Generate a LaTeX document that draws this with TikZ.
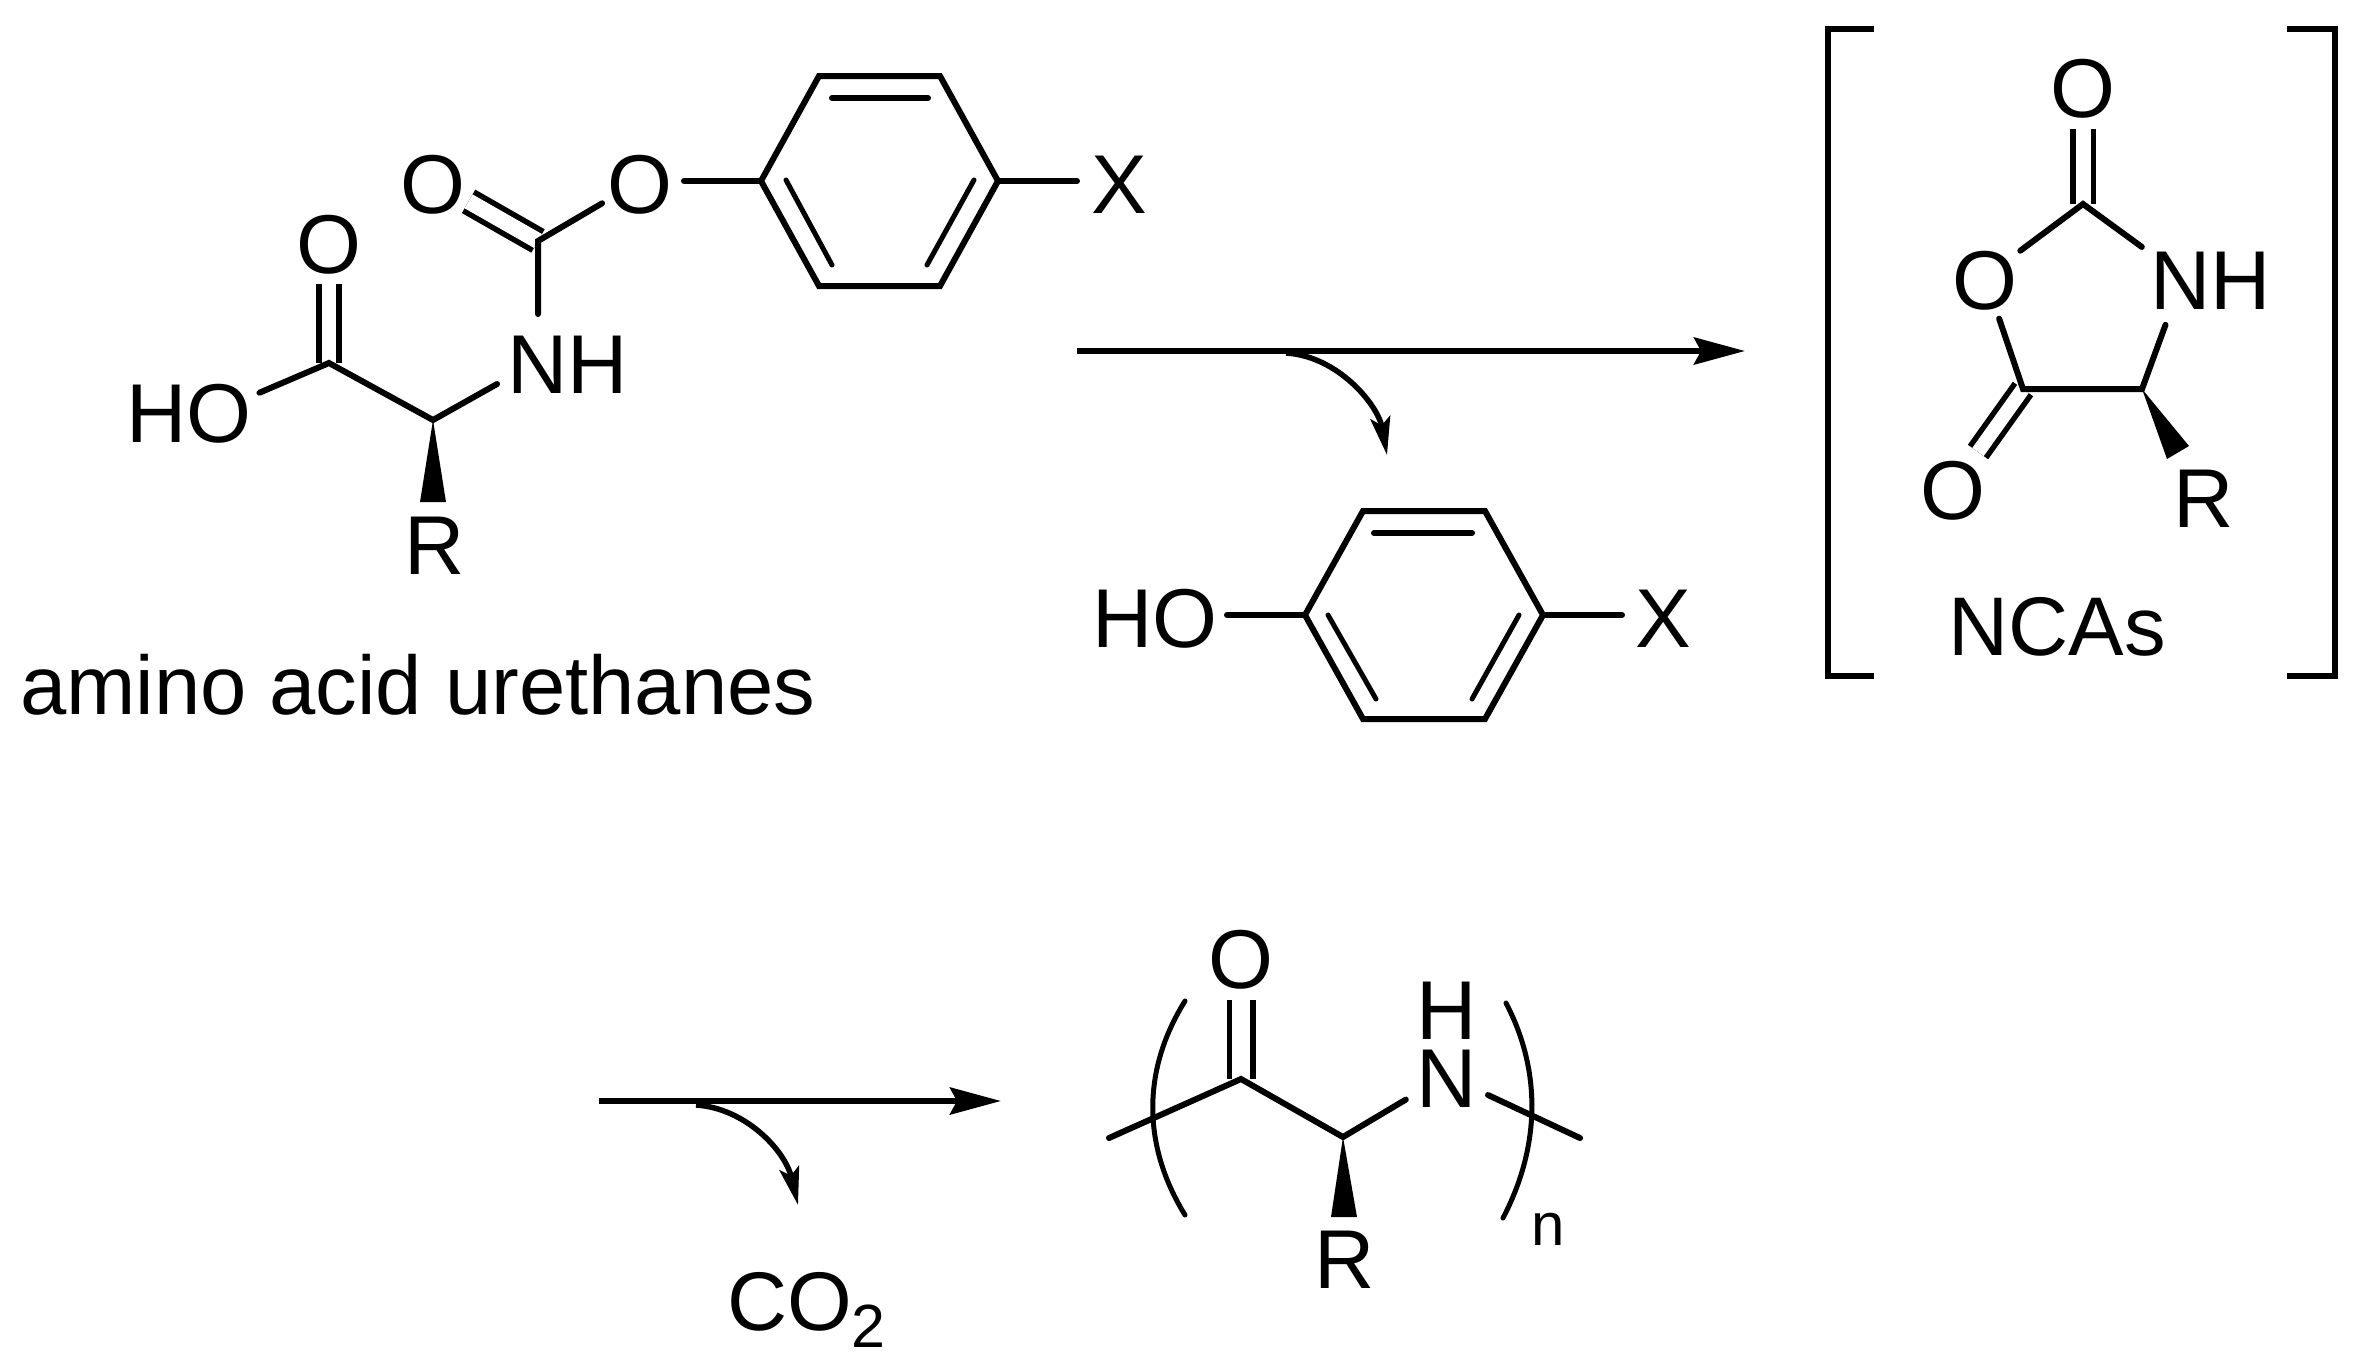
\documentclass[tikz,border=0pt]{standalone}
\usepackage{fontspec}
\setmainfont{Liberation Sans}
\usetikzlibrary{arrows.meta}
\newcommand{\ctrtxt}[1]{\smash{\makebox[0pt][c]{\raisebox{-32.5pt}{#1}}}}
\newcommand{\lefttxt}[2]{\smash{\makebox[0pt][l]{\hspace*{#1pt}\raisebox{-32.5pt}{#2}}}}
\tikzset{
  bigtext/.style={font=\fontsize{83.5}{100}\selectfont},
  atom/.style={bigtext,circle,inner sep=0pt,outer sep=0pt,minimum size=#1 pt},
  label text/.style={font=\fontsize{83.2}{100}\selectfont,inner sep=0pt,outer sep=0pt},
  bond/.style={line width=6pt,line cap=round,line join=miter,black},
  inner bond/.style={line width=5pt,line cap=round,black},
  dbl/.style={line width=5.5pt,double=white,double distance=#1 pt,black},
  mainarrow/.style={line width=6pt,-{Stealth[length=51pt,width=27pt,inset=7pt]}},
  sidearrow/.style={line width=5.5pt,-{Stealth[length=38pt,width=20pt,inset=8pt]}},
  bracket/.style={line width=6pt,line join=miter},
  paren/.style={line width=5pt,line cap=round}
}
\begin{document}
\begin{tikzpicture}[x=1pt,y=-1pt]
\useasboundingbox (0,0) rectangle (2361,1368);
\fill[white] (0,0) rectangle (2361,1368);

% ---------- amino acid urethane ----------
\coordinate (a1) at (761,181);
\coordinate (a2) at (819,76);
\coordinate (a3) at (940,76);
\coordinate (a4) at (998,181);
\coordinate (a5) at (940,286);
\coordinate (a6) at (819,286);
\coordinate (ai1) at (832,98);
\coordinate (ai2) at (928,98);
\coordinate (ai3) at (786,180);
\coordinate (ai4) at (832,265);
\coordinate (ai5) at (974,180);
\coordinate (ai6) at (927,265);
\coordinate (ac) at (538,241);
\coordinate (aca) at (433,420);
\coordinate (acc) at (329,363);
\coordinate (awl) at (420,502);
\coordinate (awr) at (446,502);
\node[atom=88] (aOe) at (640,181) {\ctrtxt{O}};
\node[atom=82] (aOc) at (433,181) {\ctrtxt{O}};
\node[atom=84] (aX) at (1119,181) {\ctrtxt{X}};
\node[atom=94] (aN) at (538,361) {\lefttxt{-31}{NH}};
\node[atom=86] (aOt) at (329,241) {\ctrtxt{O}};
\node[atom=88] (aOH) at (219,410) {\lefttxt{-93}{HO}};
\node[atom=60] (aR) at (435,542) {\ctrtxt{R}};
\node[label text,anchor=base west] (acap) at (20,714) {amino acid urethanes};

\draw[dbl=16] (aOc) -- (ac);
\draw[dbl=14.5] (aOt) -- (acc);
\draw[bond] (a1) -- (a2) -- (a3) -- (a4) -- (a5) -- (a6) -- cycle;
\draw[bond] (ai1) -- (ai2);
\draw[inner bond] (ai3) -- (ai4);
\draw[inner bond] (ai5) -- (ai6);
\draw[bond] (aOe) -- (a1);
\draw[bond] (a4) -- (aX);
\draw[bond] (aOe) -- (ac) -- (aN);
\draw[bond] (aOH) -- (acc) -- (aca) -- (aN);
\fill (aca) -- (awr) -- (awl) -- cycle;

% ---------- first reaction arrow ----------
\coordinate (r1s) at (1077,351);
\coordinate (r1e) at (1745,351);
\coordinate (r1b) at (1286,353);
\coordinate (r1t) at (1387,455);
\draw[mainarrow] (r1s) -- (r1e);
\draw[sidearrow] (r1b) .. controls (1338,356) and (1378,405) .. (r1t);

% ---------- phenol ----------
\coordinate (p1) at (1305,615);
\coordinate (p2) at (1363,511);
\coordinate (p3) at (1485,511);
\coordinate (p4) at (1543,615);
\coordinate (p5) at (1485,719);
\coordinate (p6) at (1363,719);
\coordinate (pi1) at (1374,533);
\coordinate (pi2) at (1472,533);
\coordinate (pi3) at (1328,615);
\coordinate (pi4) at (1376,699);
\coordinate (pi5) at (1519,615);
\coordinate (pi6) at (1472,699);
\node[atom=84] (pOH) at (1185,615) {\lefttxt{-93}{HO}};
\node[atom=82] (pX) at (1663,615) {\ctrtxt{X}};
\draw[bond] (p1) -- (p2) -- (p3) -- (p4) -- (p5) -- (p6) -- cycle;
\draw[bond] (pi1) -- (pi2);
\draw[inner bond] (pi3) -- (pi4);
\draw[inner bond] (pi5) -- (pi6);
\draw[bond] (pOH) -- (p1);
\draw[bond] (p4) -- (pX);

% ---------- NCA in brackets ----------
\draw[bracket] (1874,29) -- (1828,29) -- (1828,676) -- (1874,676);
\draw[bracket] (2287,29) -- (2335,29) -- (2335,676) -- (2287,676);
\coordinate (n2) at (2083,204);
\coordinate (n4) at (2142,389);
\coordinate (n5) at (2023,389);
\coordinate (nwa) at (2189,446);
\coordinate (nwb) at (2167,459);
\node[atom=88] (nOt) at (2083,85) {\ctrtxt{O}};
\node[atom=88] (nO1) at (1985,277) {\ctrtxt{O}};
\node[atom=102] (nN) at (2183,277) {\lefttxt{-33}{NH}};
\node[atom=86] (nOb) at (1953,487) {\ctrtxt{O}};
\node[atom=60] (nR) at (2204,495) {\ctrtxt{R}};
\node[label text,anchor=base] (ncap) at (2057,655) {NCAs};
\draw[dbl=15] (nOt) -- (n2);
\draw[dbl=14] (nOb) -- (n5);
\draw[bond] (nO1) -- (n2) -- (nN);
\draw[bond] (nO1) -- (n5) -- (n4) -- (nN);
\fill (n4) -- (nwa) -- (nwb) -- cycle;

% ---------- second reaction arrow ----------
\coordinate (r2s) at (599,1101);
\coordinate (r2e) at (1001,1101);
\coordinate (r2b) at (696,1105);
\coordinate (r2t) at (798,1205);
\draw[mainarrow] (r2s) -- (r2e);
\draw[sidearrow] (r2b) .. controls (745,1108) and (785,1150) .. (r2t);
\node[label text,anchor=base west] (co2) at (727,1330) {CO\raisebox{-17pt}{\fontsize{61}{70}\selectfont 2}};

% ---------- polymer ----------
\coordinate (mc) at (1241,1079);
\coordinate (mca) at (1343,1137);
\coordinate (ml) at (1109,1138);
\coordinate (ms1) at (1488,1095);
\coordinate (ms2) at (1580,1138);
\coordinate (mwl) at (1331,1217);
\coordinate (mwr) at (1357,1217);
\node[atom=88] (mO) at (1241,956) {\ctrtxt{O}};
\node[atom=96] (mN) at (1447,1075) {\ctrtxt{N}};
\node[bigtext,inner sep=0pt] (mH) at (1447,1007) {\ctrtxt{H}};
\node[atom=60] (mR) at (1345,1256) {\ctrtxt{R}};
\node[inner sep=0pt,anchor=base,font=\fontsize{60}{70}\selectfont] (mn) at (1548,1245) {n};
\draw[dbl=18] (mO) -- (mc);
\draw[bond] (ml) -- (mc) -- (mca) -- (mN);
\draw[bond] (ms1) -- (ms2);
\fill (mca) -- (mwr) -- (mwl) -- cycle;
\draw[paren] (1185,1001) .. controls (1142,1070) and (1142,1145) .. (1185,1215);
\draw[paren] (1506,1003) .. controls (1541,1070) and (1541,1145) .. (1503,1218);
\end{tikzpicture}
\end{document}
